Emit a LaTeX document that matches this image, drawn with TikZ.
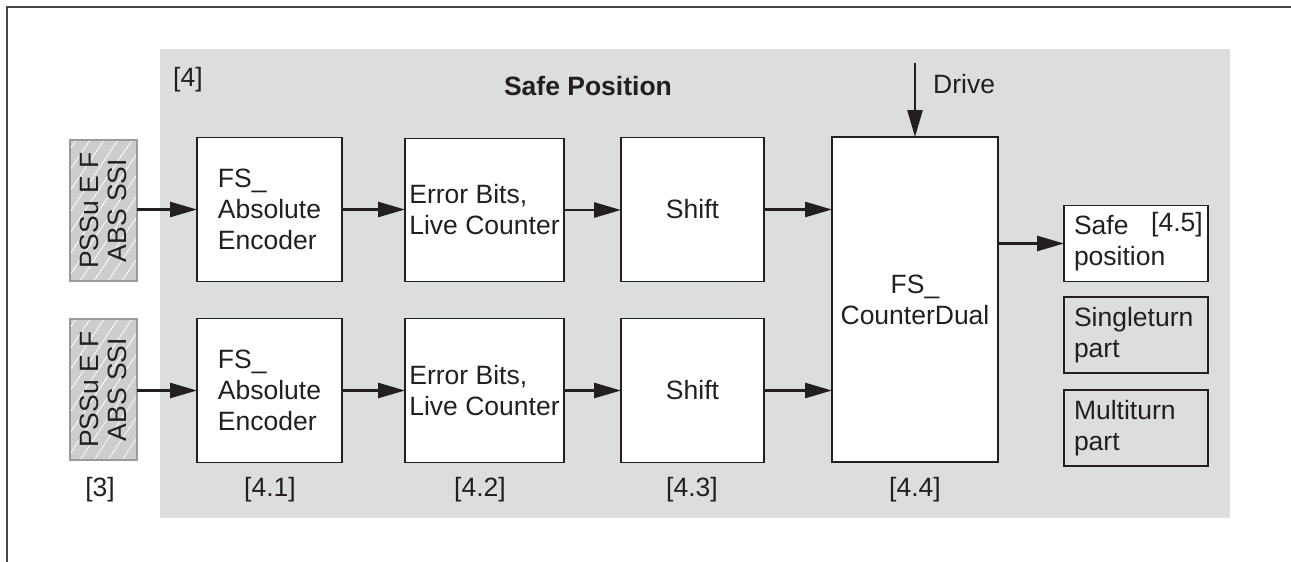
\documentclass[tikz,border=0pt]{standalone}
\usepackage{fontspec}
\setmainfont{Liberation Sans}
\usetikzlibrary{arrows.meta,calc}

\definecolor{ink}{HTML}{231F20}
\definecolor{panel}{HTML}{DCDDDF}
\definecolor{hatchfill}{HTML}{CDCDCE}
\definecolor{hatchedge}{HTML}{9A9A9A}
\definecolor{frame}{HTML}{454545}

\newcommand{\bodysize}{\fontsize{26.5}{31}\selectfont}

\tikzset{
  block/.style={draw=ink, line width=1.4pt, fill=white, outer sep=0pt, inner sep=0pt,
    font=\bodysize, text=ink},
  subblock/.style={block, minimum width=144pt, minimum height=76pt,
    text width=124pt, align=left},
  source/.style={draw=hatchedge, line width=2pt, fill=hatchfill, outer sep=0pt,
    minimum width=67pt, minimum height=141pt,
    path picture={
      \foreach \k in {-130,-116,...,80}
        \draw[white, line width=0.7pt]
          ($(path picture bounding box.south west)+(\k pt,0)$) -- ++(100pt,150pt);
    }},
  sourcetext/.style={rotate=90, align=center, text=ink,
    font=\fontsize{26.5}{28}\selectfont},
  tag/.style={text=ink, font=\bodysize, inner sep=0pt},
  flow/.style={line width=2.6pt, draw=ink,
    -{Triangle[length=27pt, width=15pt]}},
}

\begin{document}
\begin{tikzpicture}[x=1pt, y=-1pt]
  \useasboundingbox (0,0) rectangle (1291,562);

  % page frame (top and left rules)
  \draw[frame, line width=2pt] (7,562) -- (7,7) -- (1291,7);

  % shaded area of the safe position block
  \fill[panel] (160,49) rectangle (1230,518);

  \node[tag, anchor=west] (n4) at (173,80) {[4]};
  \node[tag, font=\bodysize\bfseries] (title) at (588,86) {Safe Position};

  % encoder sources
  \node[source] (h1) at (103.5,210.5) {};
  \node[sourcetext] (h1t) at (h1.center) {PSSu E F\\ABS SSI};
  \node[source] (h2) at (103.5,389.5) {};
  \node[sourcetext] (h2t) at (h2.center) {PSSu E F\\ABS SSI};

  % processing chain, upper channel
  \node[block, minimum width=145pt, minimum height=144pt, align=left] (fs1) at (269.5,209.5)
    {FS\_\\Absolute\\Encoder};
  \node[block, minimum width=159pt, minimum height=143pt, align=left] (eb1) at (484.5,210)
    {Error Bits,\\Live Counter};
  \node[block, minimum width=143pt, minimum height=144pt] (sh1) at (692.5,209.5) {Shift};

  % processing chain, lower channel
  \node[block, minimum width=145pt, minimum height=144pt, align=left] (fs2) at (269.5,390.5)
    {FS\_\\Absolute\\Encoder};
  \node[block, minimum width=159pt, minimum height=144pt, align=left] (eb2) at (484.5,390.5)
    {Error Bits,\\Live Counter};
  \node[block, minimum width=143pt, minimum height=144pt] (sh2) at (692.5,390.5) {Shift};

  % dual counter
  \node[block, minimum width=166pt, minimum height=325pt, align=center] (cd) at (915,299.5)
    {FS\_\\CounterDual};

  % outputs
  \node[subblock] (sp) at (1136,243.5) {Safe\\position};
  \node[tag, anchor=base east] (n45) at (1203,231) {[4.5]};
  \node[subblock, fill=none] (st) at (1136,335) {Singleturn\\part};
  \node[subblock, fill=none] (mt) at (1136,428) {Multiturn\\part};

  % drive input
  \coordinate (drv) at (915,63);
  \node[tag, anchor=base west] (drvl) at (933,93) {Drive};

  % reference labels
  \node[tag] (n3) at (100,490) {[3]};
  \node[tag] (n41) at (270,490) {[4.1]};
  \node[tag] (n42) at (480,490) {[4.2]};
  \node[tag] (n43) at (692,490) {[4.3]};
  \node[tag] (n44) at (915,490) {[4.4]};

  % connections
  \draw[flow] (h1.east |- fs1.west) -- (fs1.west);
  \draw[flow] (fs1.east) -- (fs1.east -| eb1.west);
  \draw[flow] (eb1.east) -- (eb1.east -| sh1.west);
  \draw[flow] (sh1.east) -- (sh1.east -| cd.west);

  \draw[flow] (h2.east |- fs2.west) -- (fs2.west);
  \draw[flow] (fs2.east) -- (fs2.east -| eb2.west);
  \draw[flow] (eb2.east) -- (eb2.east -| sh2.west);
  \draw[flow] (sh2.east) -- (sh2.east -| cd.west);

  \draw[flow] (drv) -- (cd.north);
  \draw[flow] (sp.west -| cd.east) -- (sp.west);
\end{tikzpicture}
\end{document}
